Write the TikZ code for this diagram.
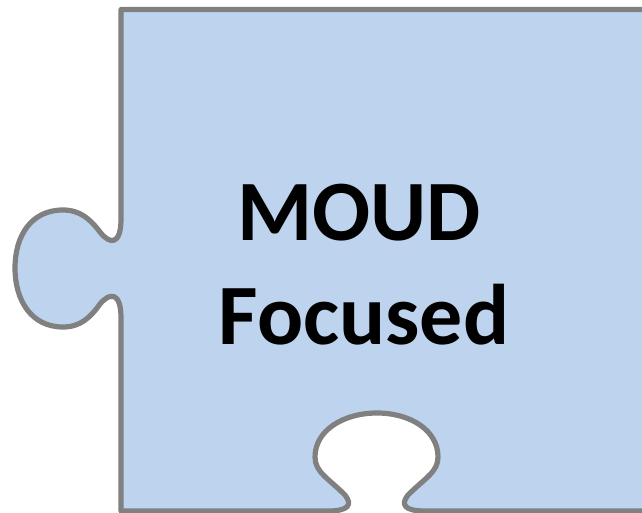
\documentclass[tikz,border=0pt]{standalone}
\usepackage{fontspec}
\setmainfont{Carlito}
\usetikzlibrary{positioning}
\definecolor{piecefill}{RGB}{190,212,238}
\definecolor{pieceline}{RGB}{128,128,128}

\begin{document}
\begin{tikzpicture}[x=0.5pt, y=-0.5pt,
  piece/.style={fill=piecefill, draw=pieceline, line width=2.6pt, line join=round},
  word/.style={font=\fontsize{43}{52}\selectfont\bfseries, anchor=base, inner sep=0pt},
]
  \useasboundingbox (0,0) rectangle (642,513);
  \clip (0,0) rectangle (642,513);
  % the puzzle piece, tab on the left, slot at the bottom
  \draw[piece] (121,9.5) -- (700,9.5) -- (700,511) -- (425,511)
    .. controls (405,511) and (400,505) .. (408,495)
    .. controls (425,478) and (438,472) .. (438,457)
    .. controls (438,430) and (410,413) .. (377,413)
    .. controls (344,413) and (315,430) .. (315,457)
    .. controls (315,472) and (328,478) .. (345,495)
    .. controls (353,505) and (348,511) .. (328,511)
    -- (121,511) -- (121,318)
    .. controls (121,292) and (110,292) .. (100,304)
    .. controls (90,318) and (80,327) .. (63,327)
    .. controls (31,327) and (15,300) .. (15,268)
    .. controls (15,236) and (31,210) .. (63,210)
    .. controls (80,210) and (90,219) .. (100,232)
    .. controls (110,245) and (121,245) .. (121,219) -- cycle;
  \node[word] (moud) at (359,241) {MOUD};
  \node[word] (focused) at (364,344) {Focused};
\end{tikzpicture}
\end{document}
